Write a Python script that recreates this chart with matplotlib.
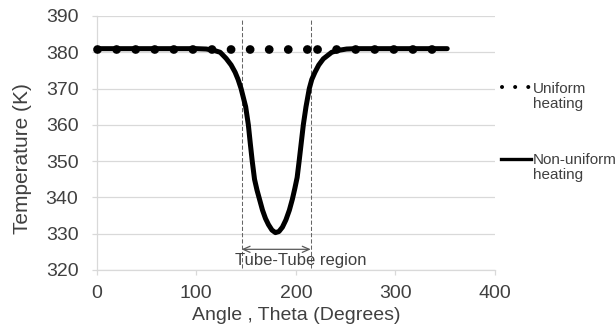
import matplotlib
matplotlib.use("Agg")
import matplotlib.pyplot as plt
from matplotlib.lines import Line2D

plt.rcParams['font.family'] = ['Liberation Sans', 'DejaVu Sans']

# non-uniform heating
theta_nu = [0, 20, 40, 60, 80, 100, 110, 118, 124, 130, 135, 139, 142, 145,
            149.6, 152.3, 154.2, 156.2, 158.5, 161, 163.5, 166.5, 169.5,
            172.5, 176, 179.5, 183, 186.5, 190, 193.5, 196.5, 199, 201.3,
            203.3, 205.4, 207.5, 210.2, 213.5, 216, 219.2, 223, 227.6, 236,
            242, 251, 260, 280, 300, 320, 340, 352]
temp_nu = [381, 381, 381, 381, 381, 381, 380.9, 380.5, 380, 378.3, 376.5,
           374.5, 372.5, 370, 365, 360, 355, 350, 345, 342, 339.5, 336.5,
           334.2, 332.5, 331, 330.3, 330.6, 331.8, 333.8, 336.5, 339.5,
           342.5, 345.5, 350, 355, 360, 365, 370, 372.5, 374.5, 376.5,
           378.2, 380, 380.5, 380.9, 381, 381, 381, 381, 381, 381]

# uniform heating
theta_u = [0, 221, 351]
temp_u = [381, 381, 381]

region = [145.5, 215]
xticks = [0, 100, 200, 300, 400]
yticks = [320, 330, 340, 350, 360, 370, 380, 390]

grey = '#d9d9d9'
txt = '#404040'

fig = plt.figure(figsize=(6.16, 3.29), dpi=100)
ax = fig.add_axes([96.7 / 616, 59 / 329, 398.3 / 616, 254 / 329])

# dotted uniform line, pattern restarts at each data point
for i in range(len(theta_u) - 1):
    ax.plot(theta_u[i:i + 2], temp_u[i:i + 2], color='black', lw=6.3,
            linestyle=(0, (0.01, 2.17)), dash_capstyle='round',
            clip_on=False, zorder=3)

ax.plot(theta_nu, temp_nu, color='black', lw=3.6, solid_capstyle='round',
        solid_joinstyle='round', clip_on=False, zorder=4)

ax.vlines(region, 320.5, 389, colors='#666666', lw=0.75,
          linestyles=(0, (4, 2)), zorder=2)
ax.annotate('', xy=(region[1], 325.7), xytext=(region[0], 325.7),
            arrowprops=dict(arrowstyle='<->,head_length=0.5,head_width=0.22',
                            color='#595959', lw=0.9, shrinkA=0, shrinkB=0))
ax.text(204.5, 322.5, 'Tube-Tube region', ha='center', va='center',
        fontsize=12, color=txt)

ax.set_xlim(0, 400)
ax.set_ylim(320, 390)
ax.set_xticks(xticks)
ax.set_yticks(yticks)
ax.grid(axis='y', color=grey, lw=0.9)
ax.set_axisbelow(True)
for s in ['top', 'right']:
    ax.spines[s].set_visible(False)
for s in ['left', 'bottom']:
    ax.spines[s].set_color(grey)
    ax.spines[s].set_linewidth(0.9)
ax.tick_params(axis='x', length=3.6, width=0.9, color=grey, pad=7.5,
               labelsize=14, labelcolor=txt)
ax.tick_params(axis='y', length=3.6, width=0.9, color=grey, pad=9.6,
               labelsize=14, labelcolor=txt)

ax.set_xlabel('Angle , Theta (Degrees)', fontsize=14, color=txt)
ax.xaxis.set_label_coords(0.5, -0.1457)
ax.set_ylabel('Temperature (K)', fontsize=15, color=txt)
ax.yaxis.set_label_coords(-0.1624, 0.439)

# legend drawn by hand so the key sits on the first text line
ax.add_line(Line2D([1.0168, 1.086], [0.7217, 0.7217], transform=ax.transAxes,
                   color='black', lw=2.9, linestyle=(0, (0.01, 3.25)),
                   dash_capstyle='round', clip_on=False))
ax.add_line(Line2D([1.0143, 1.0913], [0.4358, 0.4358], transform=ax.transAxes,
                   color='black', lw=2.4, clip_on=False))
ax.text(1.0954, 0.742, 'Uniform\nheating', transform=ax.transAxes,
        ha='left', va='top', fontsize=11, color=txt, linespacing=1.1)
ax.text(1.0954, 0.4606, 'Non-uniform\nheating', transform=ax.transAxes,
        ha='left', va='top', fontsize=11, color=txt, linespacing=1.1)

fig.savefig('out.png', dpi=100)
